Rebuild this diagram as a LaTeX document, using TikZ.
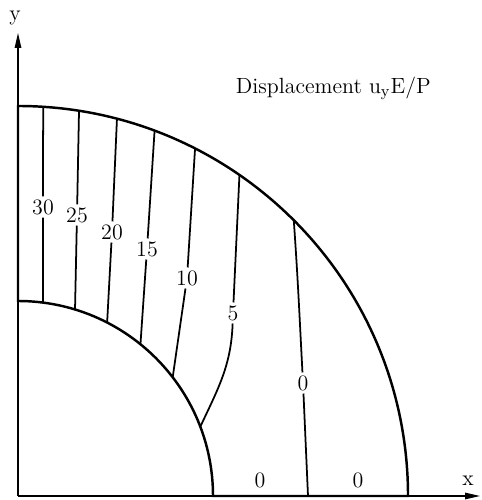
\documentclass[tikz,border=0pt]{standalone}
\usetikzlibrary{arrows.meta}

\begin{document}
\begin{tikzpicture}[
  bound/.style={line width=1.4pt},
  axis/.style={line width=0.7pt, -{Triangle[length=3mm, width=1.3mm]}},
  contour/.style={line width=1pt},
  lab/.style={font=\fontsize{12.5}{15}\selectfont, inner sep=1.5pt}
]
\useasboundingbox (-0.36,-0.08) rectangle (9.26,9.92);
\coordinate (O) at (0,0);
\coordinate (yend) at (0,9.26);
\coordinate (xend) at (9.24,0);
\draw[axis] (O) -- (yend);
\draw[axis] (O) -- (xend);
\draw[bound] (0,3.9) -- (0,7.8) arc[start angle=90, end angle=0, radius=7.8] -- (3.9,0) arc[start angle=0, end angle=90, radius=3.9] -- cycle;

\coordinate (o30) at (86.3:7.8);
\coordinate (o25) at (81.0:7.8);
\coordinate (o20) at (75.3:7.8);
\coordinate (o15) at (69.5:7.8);
\coordinate (o10) at (63.0:7.8);
\coordinate (o5) at (55.4:7.8);
\coordinate (o0) at (45.0:7.8);
\coordinate (i30) at (82.6:3.9);
\coordinate (i25) at (73.0:3.9);
\coordinate (i20) at (62.8:3.9);
\coordinate (i15) at (51.1:3.9);
\coordinate (i10) at (37.5:3.9);
\coordinate (i5) at (20.8:3.9);
\coordinate (b0) at (5.8,0);

\node[lab] (l30) at (0.5,5.78) {30};
\node[lab] (l25) at (1.18,5.62) {25};
\node[lab] (l20) at (1.88,5.28) {20};
\node[lab] (l15) at (2.58,4.94) {15};
\node[lab] (l10) at (3.38,4.36) {10};
\node[lab] (l5) at (4.30,3.66) {5};
\node[lab] (l0) at (5.70,2.26) {0};
\node[lab] (z1) at (4.84,0.32) {0};
\node[lab] (z2) at (6.80,0.32) {0};

\draw[contour] (o30) -- (l30) -- (i30);
\draw[contour] (o25) -- (l25) -- (i25);
\draw[contour] (o20) -- (l20) -- (i20);
\draw[contour] (o15) -- (l15) -- (i15);
\draw[contour] (o10) -- (l10) -- (i10);
\draw[contour] (o5) -- (l5) to[out=-92, in=65] (i5);
\draw[contour] (o0) to[out=-86, in=93] (l0) -- (b0);

\node[lab, anchor=west] (title) at (4.30,8.16) {Displacement u$_{\mathrm{y}}$E/P};
\node[lab] (ylab) at (-0.06,9.56) {y};
\node[lab] (xlab) at (9.0,0.3) {x};
\end{tikzpicture}
\end{document}
